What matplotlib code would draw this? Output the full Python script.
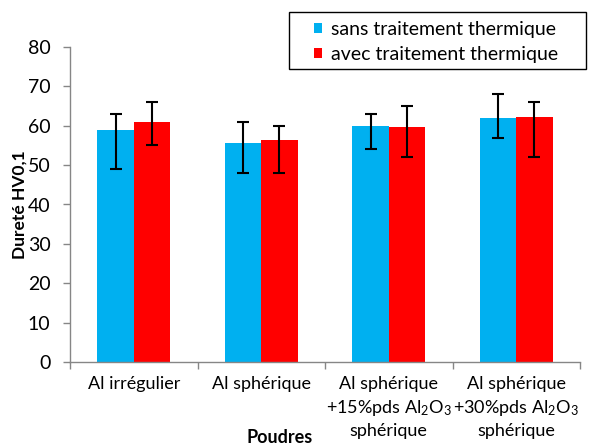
import numpy as np
import matplotlib
matplotlib.use("Agg")
import matplotlib.pyplot as plt
from matplotlib.patches import Rectangle
from matplotlib.ticker import FixedLocator

plt.rcParams['font.family'] = ['Lato', 'DejaVu Sans']
plt.rcParams['mathtext.fontset'] = 'custom'
plt.rcParams['mathtext.rm'] = 'Lato'
plt.rcParams['mathtext.it'] = 'Lato:italic'

# hardness values (HV0,1) per powder, mean with min/max bounds
poudres = ["Al irrégulier", "Al sphérique",
           "Al sphérique\n+15%pds Al$_2$O$_3$\nsphérique",
           "Al sphérique\n+30%pds Al$_2$O$_3$\nsphérique"]
sans_tt = [59.0, 55.6, 59.9, 61.9]
sans_max = [63.0, 61.0, 63.0, 68.0]
sans_min = [49.0, 48.0, 54.0, 57.0]
avec_tt = [60.9, 56.3, 59.7, 62.2]
avec_max = [66.0, 60.0, 65.0, 66.0]
avec_min = [55.0, 48.0, 52.0, 52.0]
yticks = [0, 10, 20, 30, 40, 50, 60, 70, 80]

fs = 14

fig = plt.figure(figsize=(5.94, 4.48), dpi=100)
ax = fig.add_axes([70/594, 1-362/448, 510/594, 315/448])

x = np.arange(len(poudres))
w = 0.285
sans = np.array(sans_tt)
avec = np.array(avec_tt)
err_s = [sans - np.array(sans_min), np.array(sans_max) - sans]
err_a = [avec - np.array(avec_min), np.array(avec_max) - avec]

ax.bar(x - w/2, sans, w, color='#00B0F0', label='sans traitement thermique')
ax.bar(x + w/2, avec, w, color='#FF0000', label='avec traitement thermique')
ax.errorbar(x - w/2, sans, yerr=err_s, fmt='none', ecolor='black',
            elinewidth=1.5, capsize=4.5, capthick=1.5)
ax.errorbar(x + w/2, avec, yerr=err_a, fmt='none', ecolor='black',
            elinewidth=1.5, capsize=4.5, capthick=1.5)

ax.set_xlim(-0.5, len(poudres) - 0.5)
ax.set_ylim(0, 80)
ax.set_yticks(yticks)
ax.tick_params(axis='y', direction='out', length=5, width=1, color='#868686',
               pad=9, labelsize=fs)

ax.set_xticks(x)
ax.set_xticklabels(poudres, fontsize=13, linespacing=1.4, va='top')
ax.tick_params(axis='x', which='major', length=0, pad=10)
ax.xaxis.set_minor_locator(FixedLocator(np.arange(len(poudres) + 1) - 0.5))
ax.tick_params(axis='x', which='minor', direction='out', length=5, width=1,
               color='#868686')

for s in ['top', 'right']:
    ax.spines[s].set_visible(False)
for s in ['left', 'bottom']:
    ax.spines[s].set_color('#868686')
    ax.spines[s].set_linewidth(1)

fig.text(20/594, 1-205/448, 'Dureté HV0,1', fontsize=12.5, fontweight='bold',
         rotation=90, ha='center', va='center')
fig.text(280/594, 1-437/448, 'Poudres', fontsize=13, fontweight='bold',
         ha='center', va='center')

# legend box is wider than its contents, so draw the frame separately
fig.patches.append(Rectangle((289/594, 1-69/448), 297/594, 57/448,
                             transform=fig.transFigure, fill=False,
                             edgecolor='black', linewidth=1))
fig.legend(loc='center', bbox_to_anchor=(436/594, 1-42/448),
           fontsize=fs, frameon=False, handlelength=0.42,
           handleheight=0.42, handletextpad=0.45, borderpad=0,
           labelspacing=0.45, borderaxespad=0)

fig.savefig('out.png', dpi=100)
